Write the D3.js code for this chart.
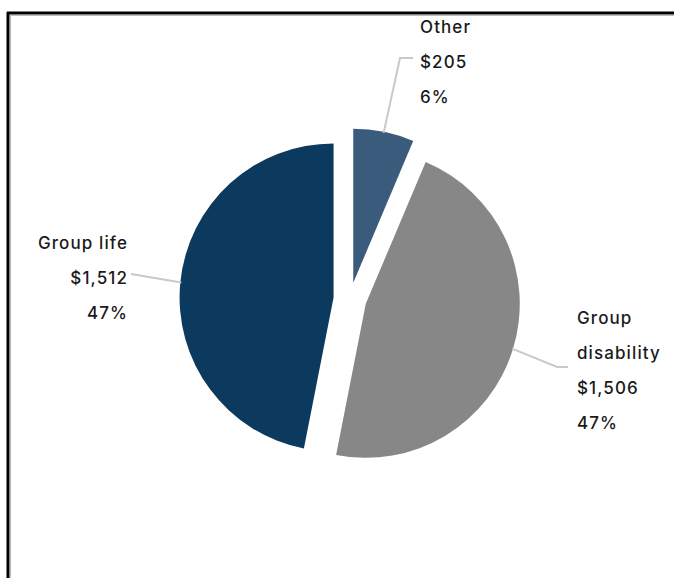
<!DOCTYPE html>
<html>
<head>
<meta charset="utf-8">
<script src="https://cdn.jsdelivr.net/npm/d3@7"></script>
<style>
  html, body { margin: 0; padding: 0; background: #fff; }
  svg { display: block; }
  text { font-family: "Inter", "Open Sans", sans-serif; font-weight: 500; fill: #1a1a1a; }
</style>
</head>
<body>
<svg id="chart" width="674" height="578"></svg>
<script>
// ---- Data ----
const categories = ["Other", "Group disability", "Group life"];
const values = [205, 1506, 1512];
const valueLabels = ["$205", "$1,506", "$1,512"];
const percentLabels = ["6%", "47%", "47%"];
const nameLines = [["Other"], ["Group", "disability"], ["Group life"]];
const colors = ["#3b5b7d", "#878787", "#0b3a5e"];

// ---- Layout ----
const W = 674, H = 578;
const cx = 350, cy = 299, R = 154, explode = 16.5;
const lineH = 35;

const svg = d3.select("#chart");

// frame (cropped screenshot border)
svg.append("line").attr("x1", 7).attr("x2", W).attr("y1", 13).attr("y2", 13)
  .attr("stroke", "#000").attr("stroke-width", 3);
svg.append("line").attr("x1", 8).attr("x2", 8).attr("y1", 12).attr("y2", H)
  .attr("stroke", "#000").attr("stroke-width", 3);
svg.append("line").attr("x1", 10).attr("x2", W).attr("y1", 15.5).attr("y2", 15.5)
  .attr("stroke", "#bbb").attr("stroke-width", 1);
svg.append("line").attr("x1", 10.5).attr("x2", 10.5).attr("y1", 15).attr("y2", H)
  .attr("stroke", "#bbb").attr("stroke-width", 1);

const pie = d3.pie().sort(null).value(d => d)(values);
const arc = d3.arc().innerRadius(0).outerRadius(R);

const g = svg.append("g").attr("transform", `translate(${cx},${cy})`);

function dir(a) { return [Math.sin(a), -Math.cos(a)]; }

pie.forEach((p, i) => {
  const mid = (p.startAngle + p.endAngle) / 2;
  const [dx, dy] = dir(mid);
  g.append("path")
    .attr("d", arc(p))
    .attr("fill", colors[i])
    .attr("transform", `translate(${dx * explode},${dy * explode})`);
});

// label anchors and leader routes (layout)
const labelLayout = [
  { x: 420, y: 33, anchor: "start", route: [[400, 58], [413, 58]] },
  { x: 577, y: 324, anchor: "start", route: [[557, 367], [568, 367]] },
  { x: 128, y: 249, anchor: "end", route: [[131, 274]] }
];

pie.forEach((p, i) => {
  const mid = (p.startAngle + p.endAngle) / 2;
  const [dx, dy] = dir(mid);
  const start = [cx + dx * explode + dx * (R - 1), cy + dy * explode + dy * (R - 1)];
  const L = labelLayout[i];
  const pts = [start].concat(L.route);
  svg.append("path")
    .attr("d", d3.line()(pts))
    .attr("fill", "none")
    .attr("stroke", "#c9c9c9")
    .attr("stroke-width", 2);

  const lines = nameLines[i].concat([valueLabels[i], percentLabels[i]]);
  lines.forEach((t, k) => {
    svg.append("text")
      .attr("x", L.x)
      .attr("y", L.y + k * lineH)
      .attr("text-anchor", L.anchor)
      .style("font-size", "17px")
      .style("letter-spacing", "1.1px")
      .text(t);
  });
});
</script>
</body>
</html>
